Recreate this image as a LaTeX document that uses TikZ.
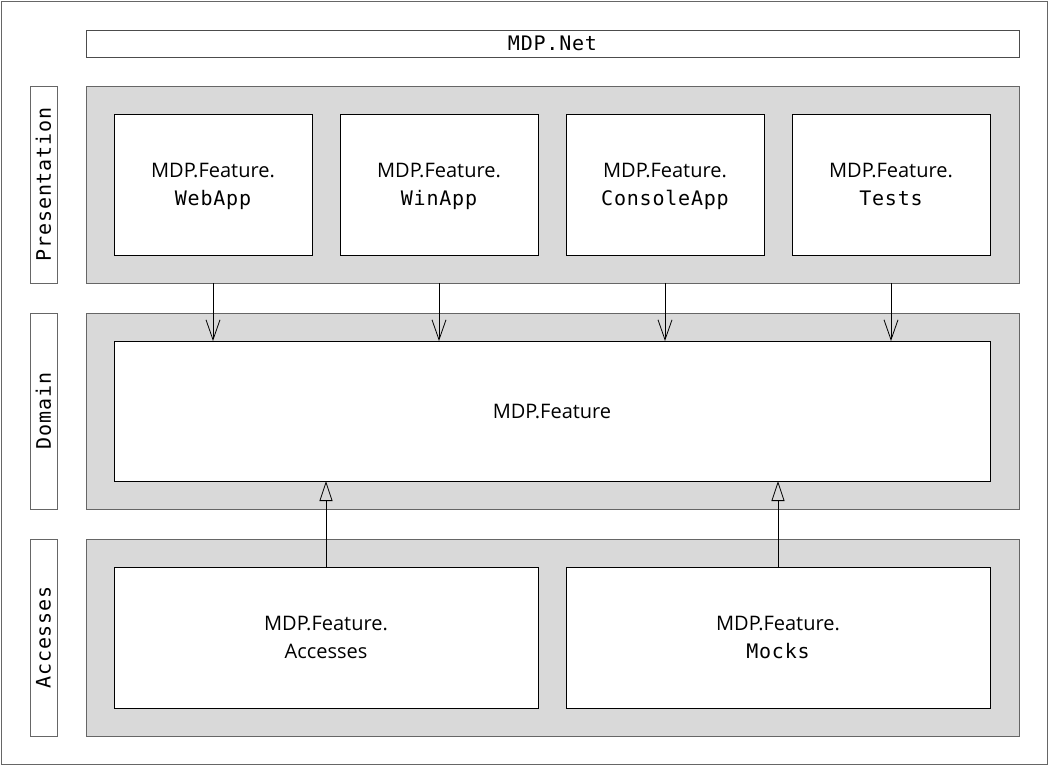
\documentclass[tikz,border=0pt]{standalone}
\usepackage{fontspec}
\setmainfont{Open Sans}
\newfontfamily\codefont[LetterSpace=4]{DejaVu Sans Mono}
\usetikzlibrary{arrows.meta}

\tikzstyle{every node}=[inner sep=0pt, outer sep=0pt, font={\fontsize{20}{28}\selectfont}]
\tikzstyle{layer}=[draw=black!60, line width=1pt, fill=black!15, minimum width=933pt, minimum height=197pt]
\tikzstyle{tag}=[draw=black!60, line width=1pt, fill=white, rotate=90, minimum width=197pt, minimum height=27pt, font={\fontsize{20}{28}\selectfont\codefont}]
\tikzstyle{project}=[draw=black, line width=1pt, fill=white, minimum width=198pt, minimum height=141pt, align=center]
\tikzstyle{uses}=[line width=0.8pt, -{Straight Barb[length=20pt, width=14pt, line width=0.8pt]}]
\tikzstyle{implements}=[line width=0.8pt, -{Triangle[open, length=20pt, width=13pt, line width=0.8pt]}]

\begin{document}
\begin{tikzpicture}[x=1pt, y=-1pt]
    \useasboundingbox (0,0) rectangle (1049,766);
    \draw [draw=black!60, line width=1pt] (1,1) rectangle (1047,764);

    % solution
    \node [draw=black!70, line width=1pt, minimum width=933pt, minimum height=27pt,
           font={\fontsize{20}{28}\selectfont\codefont}] (net) at (552.5,43.5) {MDP.Net};

    % layers
    \node [layer] (presentation) at (552.5,184.5) {};
    \node [layer, minimum height=196pt] (domain) at (552.5,411) {};
    \node [layer] (accesses) at (552.5,637.5) {};

    \node [tag] (presentationtag) at (43.5,184.5) {Presentation};
    \node [tag, minimum width=196pt] (domaintag) at (43.5,411) {Domain};
    \node [tag] (accessestag) at (43.5,637.5) {Accesses};

    % presentation projects
    \node [project] (webapp) at (213,184.5) {MDP.Feature.\\\smash{\codefont WebApp}};
    \node [project] (winapp) at (439,184.5) {MDP.Feature.\\\smash{\codefont WinApp}};
    \node [project] (consoleapp) at (665,184.5) {MDP.Feature.\\\smash{\codefont ConsoleApp}};
    \node [project] (tests) at (891,184.5) {MDP.Feature.\\\smash{\codefont Tests}};

    % domain project
    \node [project, minimum width=876pt, minimum height=140pt] (feature) at (552,411) {MDP.Feature};

    % access projects
    \node [project, minimum width=424pt] (accessimpl) at (326,637.5) {MDP.Feature.\\\smash{Accesses}};
    \node [project, minimum width=424pt] (mocks) at (778,637.5) {MDP.Feature.\\\smash{\codefont Mocks}};

    % dependencies
    \foreach \p in {webapp, winapp, consoleapp, tests}
        \draw [uses] (\p.south |- presentation.south) -- (\p.south |- feature.north);
    \foreach \p in {accessimpl, mocks}
        \draw [implements] (\p.north) -- (\p.north |- feature.south);
\end{tikzpicture}
\end{document}
